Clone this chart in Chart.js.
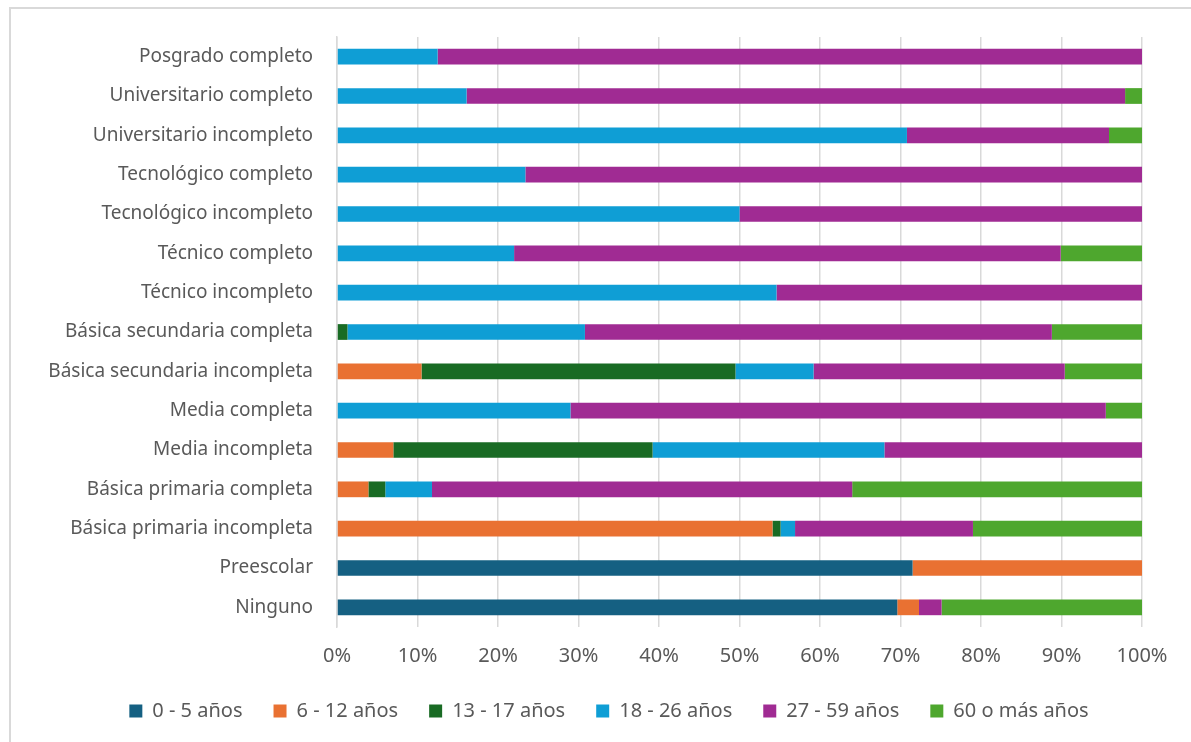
<!DOCTYPE html>
<html>
<head>
<meta charset="utf-8">
<script src="https://cdn.jsdelivr.net/npm/chart.js@4.4.1/dist/chart.umd.min.js"></script>
<style>
  html, body { margin: 0; padding: 0; background: #fff; overflow: hidden; }
  #frame { position: absolute; left: 9px; top: 7px; width: 1300px; height: 900px; border: 2px solid #d9d9d9; box-sizing: border-box; }
  #wrap { position: absolute; left: 27px; top: 0; width: 1164px; height: 742px; }
</style>
</head>
<body>
<div id="frame"></div>
<div id="wrap"><canvas id="chart"></canvas></div>
<script>
// categories, top to bottom
const categories = [
  'Posgrado completo', 'Universitario completo', 'Universitario incompleto',
  'Tecnológico completo', 'Tecnológico incompleto', 'Técnico completo',
  'Técnico incompleto', 'Básica secundaria completa', 'Básica secundaria incompleta',
  'Media completa', 'Media incompleta', 'Básica primaria completa',
  'Básica primaria incompleta', 'Preescolar', 'Ninguno'
];
const seriesNames = ['0 - 5 años', '6 - 12 años', '13 - 17 años', '18 - 26 años', '27 - 59 años', '60 o más años'];
const seriesColors = ['#156082', '#E97132', '#196B24', '#0F9ED5', '#A02B93', '#4EA72E'];

// shares in %
const age0to5   = [0, 0, 0, 0, 0, 0, 0, 0, 0, 0, 0, 0, 0, 71.5, 69.6];
const age6to12  = [0, 0, 0, 0, 0, 0, 0, 0, 10.5, 0, 7.0, 3.9, 54.1, 28.5, 2.7];
const age13to17 = [0, 0, 0, 0, 0, 0, 0, 1.3, 39.0, 0, 32.2, 2.1, 1.0, 0, 0];
const age18to26 = [12.5, 16.1, 70.8, 23.4, 50.0, 22.0, 54.6, 29.5, 9.7, 29.0, 28.8, 5.8, 1.8, 0, 0];
const age27to59 = [87.5, 81.8, 25.1, 76.6, 50.0, 67.9, 45.4, 58.0, 31.2, 66.5, 32.0, 52.2, 22.1, 0, 2.8];
const age60plus = [0, 2.1, 4.1, 0, 0, 10.1, 0, 11.2, 9.6, 4.5, 0, 36.0, 21.0, 0, 24.9];

const xTicks = [0, 10, 20, 30, 40, 50, 60, 70, 80, 90, 100];

const allSeries = [age0to5, age6to12, age13to17, age18to26, age27to59, age60plus];
const datasets = allSeries.map(function(values, i){
  return {
    label: seriesNames[i],
    data: values,
    backgroundColor: seriesColors[i],
    borderWidth: 0,
    barPercentage: 0.4,
    categoryPercentage: 1.0
  };
});

const textColor = '#595959';
const fontFamily = "'Noto Sans', 'Open Sans', sans-serif";

new Chart(document.getElementById('chart'), {
  type: 'bar',
  data: { labels: categories, datasets: datasets },
  options: {
    indexAxis: 'y',
    responsive: true,
    maintainAspectRatio: false,
    animation: false,
    layout: { padding: { top: 37, left: 0, right: 0, bottom: 11 } },
    scales: {
      x: {
        stacked: true,
        min: 0,
        max: 100,
        afterBuildTicks: function(scale){
          scale.ticks = xTicks.map(function(v){ return { value: v }; });
        },
        afterFit: function(scale){ scale.height = 43; },
        ticks: {
          color: textColor,
          font: { family: fontFamily, size: 20 },
          padding: 17,
          callback: function(v){ return v + '%'; }
        },
        grid: { color: '#d9d9d9', lineWidth: 1.5, drawTicks: false },
        border: { display: false }
      },
      y: {
        stacked: true,
        afterFit: function(scale){ scale.width = 310; },
        ticks: {
          color: textColor,
          font: { family: fontFamily, size: 19 },
          padding: 24
        },
        grid: { display: false, drawTicks: false },
        border: { display: true, color: '#d9d9d9', width: 1.5 }
      },
      yRight: {
        position: 'right',
        type: 'category',
        labels: categories,
        afterFit: function(scale){ scale.width = 49; },
        ticks: { display: false },
        grid: { display: false, drawTicks: false },
        border: { display: false }
      }
    },
    plugins: {
      legend: {
        position: 'bottom',
        labels: {
          color: textColor,
          font: { family: fontFamily, size: 20 },
          boxWidth: 13,
          boxHeight: 13,
          padding: 31
        }
      },
      tooltip: { enabled: false }
    }
  }
});
</script>
</body>
</html>
